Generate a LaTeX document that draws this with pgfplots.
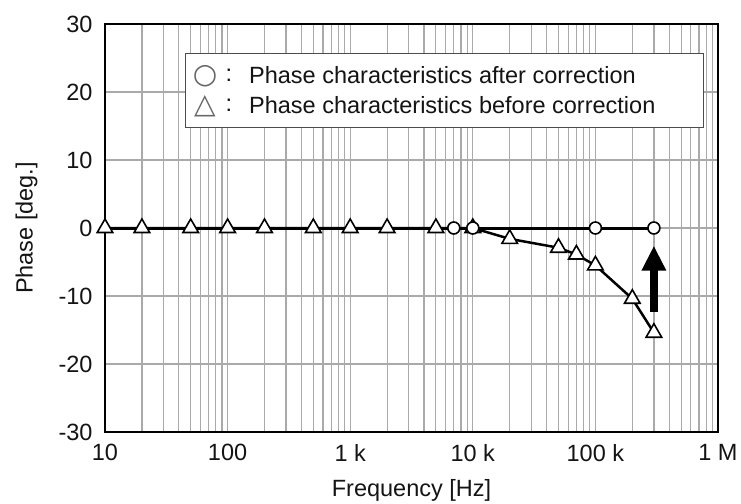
\documentclass[border=0pt]{standalone}
\usepackage{fontspec}
\setmainfont{Liberation Sans}
\newfontfamily\symfont{DejaVu Sans}
\usepackage{pgfplots}
\usepackage{pgfplotstable}
\pgfplotsset{compat=1.18}
\usetikzlibrary{arrows.meta}
\definecolor{gridgray}{RGB}{170,170,170}
\definecolor{txt}{RGB}{20,20,20}
\newcommand{\bigf}{\fontsize{23.5bp}{28bp}\selectfont}

\pgfplotstableread{
f ph
10 0
20 0
50 0
100 0
200 0
500 0
1000 0
2000 0
5000 0
7000 0
10000 0
100000 0
300000 0
}\aftertab

\pgfplotstableread{
f ph
10 0
20 0
50 0
100 0
200 0
500 0
1000 0
2000 0
5000 0
10000 0
20000 -1.6
50000 -2.9
70000 -3.9
100000 -5.5
200000 -10.4
300000 -15.4
}\beforetab

\begin{document}
\begin{tikzpicture}
\useasboundingbox (-105bp,-72bp) rectangle (636bp,432bp);
\begin{axis}[
  at={(0,0)}, anchor=south west,
  scale only axis, width=613bp, height=408bp,
  xmode=log, xmin=10, xmax=1e6, ymin=-30, ymax=30,
  xtick={10,100,1000,10000,100000,1000000},
  xticklabels={10,100,1 k,10 k,100 k,1 M},
  ytick={-30,-20,-10,0,10,20,30},
  xmajorgrids, xminorgrids, ymajorgrids,
  grid style={gridgray, line width=1.2bp},
  minor grid style={gridgray, line width=1.2bp},
  major tick length=0pt, minor tick length=0pt,
  axis line style={black, line width=2.5bp},
  /pgf/number format/assume math mode=true,
  tick label style={font=\bigf, text=txt},
  xticklabel style={yshift=-9bp},
  yticklabel style={xshift=-9bp},
  xlabel={Frequency [Hz]}, ylabel={Phase [deg.]},
  label style={font=\bigf, text=txt},
  xlabel style={at={(axis description cs:0.5,-0.142)}, anchor=center},
  ylabel style={at={(axis description cs:-0.128,0.5)}, anchor=center},
  clip=false,
]
% after-correction line only
\addplot[black, line width=3bp, no marks] table[x=f,y=ph] {\aftertab};
% before-correction
\addplot[black, line width=2.5bp, mark=triangle*, mark size=9bp,
  mark options={fill=white, draw=black, line width=1.6bp, solid}] table[x=f,y=ph] {\beforetab};
% after-correction visible markers
\addplot[draw=none, mark=*, mark size=6bp, mark indices={10,11,12,13},
  mark options={fill=white, draw=black, line width=1.6bp}] table[x=f,y=ph] {\aftertab};
% arrow
\draw[line width=8bp, -{Triangle[length=25bp,width=23bp]}] (axis cs:300000,-12.3) -- (axis cs:300000,-2.6);
% legend
\node[draw=black!70, fill=white, line width=1.2bp, anchor=north west,
  minimum width=518bp, minimum height=74bp, inner sep=0pt]
  at (rel axis cs:0.1305,0.929) {};
\node[font=\symfont\fontsize{28bp}{30bp}\selectfont, text=black!60, anchor=center, inner sep=0pt] at (rel axis cs:0.1631,0.873) {○};
\node[font=\symfont\fontsize{28bp}{30bp}\selectfont, text=black!60, anchor=center, inner sep=0pt] at (rel axis cs:0.1631,0.798) {△};
\node[font=\bigf, text=txt, anchor=center] at (rel axis cs:0.2023,0.875) {:};
\node[font=\bigf, text=txt, anchor=center] at (rel axis cs:0.2023,0.8015) {:};
\node[font=\bigf, text=txt, anchor=west, inner sep=0pt] at (rel axis cs:0.2349,0.875) {Phase characteristics after correction};
\node[font=\bigf, text=txt, anchor=west, inner sep=0pt] at (rel axis cs:0.2349,0.8015) {Phase characteristics before correction};
\end{axis}
\end{tikzpicture}
\end{document}
